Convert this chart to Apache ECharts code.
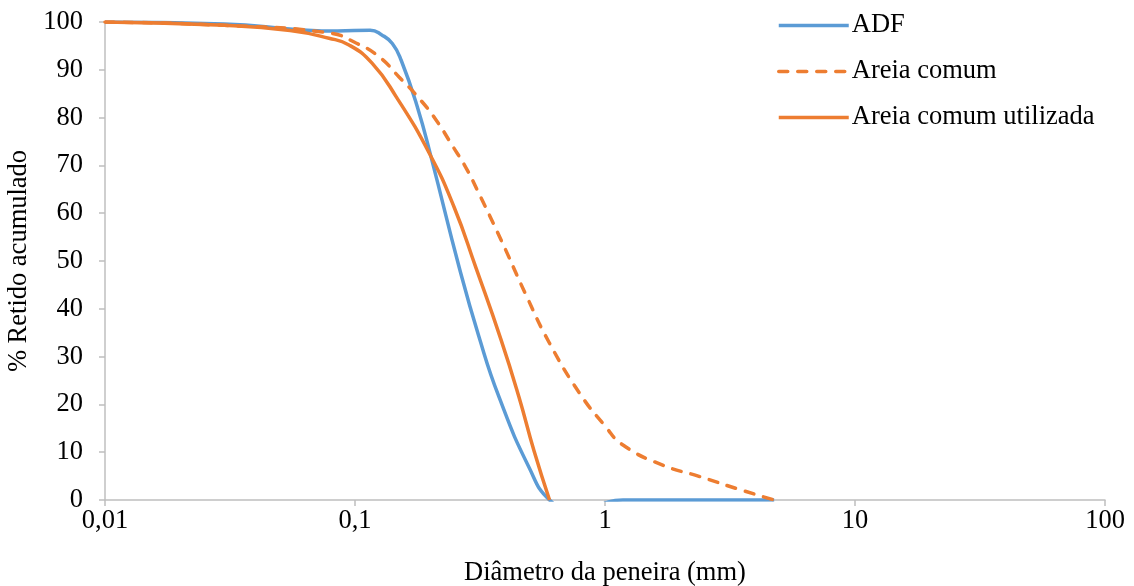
<!DOCTYPE html>
<html>
<head>
<meta charset="utf-8">
<script src="https://cdn.jsdelivr.net/npm/echarts@6/dist/echarts.min.js"></script>
<style>
html,body{margin:0;padding:0;background:#fff;}
#chart{width:1134px;height:586px;}
</style>
</head>
<body>
<div id="chart"></div>
<script>
// Sieve diameters (mm) and cumulative retained (%)
var adfDiam   = [0.01, 0.03, 0.06, 0.085, 0.115, 0.128, 0.141, 0.153, 0.177, 0.203, 0.261, 0.313, 0.377, 0.497, 0.6, 0.76, 1.18, 2.36, 4.75];
var adfValues = [100, 99.6, 98.4, 98.1, 98.3, 97.3, 95.5, 92.0, 82.5, 71.1, 48.7, 34.2, 21.5, 6.8, 0, -2.5, 0, 0, 0];

var comumDiam   = [0.01, 0.03, 0.079, 0.101, 0.125, 0.15, 0.18, 0.211, 0.244, 0.278, 0.308, 0.384, 0.483, 0.6, 0.79, 1.0, 1.18, 1.7, 2.36, 3.5, 4.75];
var comumValues = [100, 99.3, 97.7, 95.6, 92.7, 88.5, 84.1, 79.5, 74.3, 69.5, 64.9, 54.4, 42.9, 32.8, 22.4, 15.5, 11.5, 7.3, 5.0, 2.1, 0];

var utilDiam   = [0.01, 0.03, 0.055, 0.0787, 0.0946, 0.117, 0.146, 0.198, 0.249, 0.305, 0.384, 0.453, 0.52, 0.6];
var utilValues = [100, 99.3, 98.2, 96.6, 95.2, 91.4, 84.4, 72.6, 61.3, 48.5, 33.5, 21.5, 10.3, 0];

var seriesNames = ['ADF', 'Areia comum', 'Areia comum utilizada'];
var xTickLabels = ['0,01', '0,1', '1', '10', '100'];
var yTickLabels = ['0','10','20','30','40','50','60','70','80','90','100'];
var xAxisTitle = 'Diâmetro da peneira (mm)';
var yAxisTitle = '% Retido acumulado';

function pairs(xs, ys) { return xs.map(function (x, i) { return [x, ys[i]]; }); }

var FONT = '"Liberation Serif", "Times New Roman", serif';
var FS = 26.5;
var BLUE = '#5B9BD5', ORANGE = '#ED7D31';
var AXIS = '#BFBFBF';

var chart = echarts.init(document.getElementById('chart'), null, {renderer: 'canvas'});
chart.setOption({
  animation: false,
  backgroundColor: '#ffffff',
  textStyle: {fontFamily: FONT, color: '#000'},
  grid: {left: 105, right: 29, top: 22, bottom: 86, containLabel: false, outerBoundsMode: 'none'},
  legend: {
    orient: 'vertical',
    left: 772,
    top: 7,
    itemWidth: 70,
    itemHeight: 14,
    itemGap: 19,
    itemStyle: {opacity: 0},
    lineStyle: {width: 3.5},
    textStyle: {fontFamily: FONT, fontSize: FS, color: '#000', padding: [0, 0, 0, -2]},
    data: seriesNames
  },
  xAxis: {
    type: 'log',
    logBase: 10,
    min: 0.01,
    max: 100,
    name: xAxisTitle,
    nameLocation: 'middle',
    nameGap: 60,
    nameTextStyle: {fontFamily: FONT, fontSize: FS, color: '#000'},
    axisLine: {show: true, lineStyle: {color: AXIS, width: 1.5}},
    axisTick: {show: true, length: 6, lineStyle: {color: AXIS, width: 1.5}},
    splitLine: {show: false},
    minorTick: {show: false},
    axisLabel: {
      fontFamily: FONT, fontSize: FS, color: '#000', margin: 8,
      formatter: function (v, i) { return xTickLabels[i] !== undefined ? xTickLabels[i] : ''; }
    }
  },
  yAxis: {
    type: 'value',
    min: 0,
    max: 100,
    interval: 10,
    name: yAxisTitle,
    nameLocation: 'middle',
    nameGap: 58,
    nameTextStyle: {fontFamily: FONT, fontSize: FS, color: '#000'},
    axisLine: {show: true, lineStyle: {color: AXIS, width: 1.5}},
    axisTick: {show: true, length: 6, lineStyle: {color: AXIS, width: 1.5}},
    splitLine: {show: false},
    axisLabel: {
      fontFamily: FONT, fontSize: FS, color: '#000', margin: 22,
      formatter: function (v, i) { return yTickLabels[i]; }
    }
  },
  series: [
    {
      name: seriesNames[0], type: 'line', data: pairs(adfDiam, adfValues),
      smooth: 0.5, symbol: 'none', clip: true,
      lineStyle: {color: BLUE, width: 3.5}, itemStyle: {color: BLUE}
    },
    {
      name: seriesNames[1], type: 'line', data: pairs(comumDiam, comumValues),
      smooth: 0.5, symbol: 'none', clip: true,
      lineStyle: {color: ORANGE, width: 3.5, type: [9, 10], cap: 'round'}, itemStyle: {color: ORANGE}
    },
    {
      name: seriesNames[2], type: 'line', data: pairs(utilDiam, utilValues),
      smooth: 0.5, symbol: 'none', clip: true,
      lineStyle: {color: ORANGE, width: 3.5}, itemStyle: {color: ORANGE}
    }
  ]
});
</script>
</body>
</html>
